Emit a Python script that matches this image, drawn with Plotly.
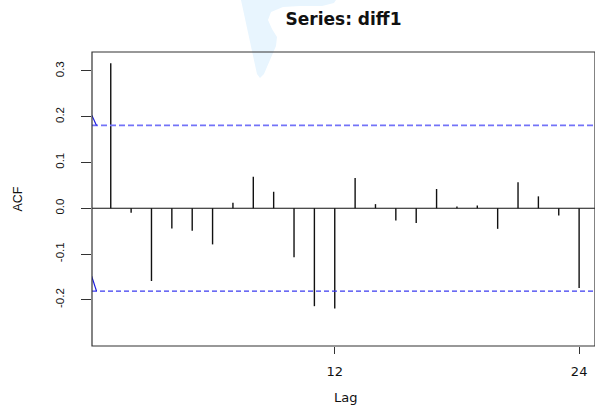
import plotly.graph_objects as go

# Sample autocorrelations of diff1, lags 1..24
lags = list(range(1, 25))
acf_values = [0.317, -0.010, -0.159, -0.044, -0.049, -0.079, 0.012, 0.069,
              0.036, -0.107, -0.214, -0.219, 0.066, 0.009, -0.027, -0.032,
              0.042, 0.004, 0.006, -0.045, 0.057, 0.026, -0.016, -0.174]

# 95% significance bounds
ci_bound = 0.181
# short solid pieces where the bound lines meet the left edge
ci_edge_x = [0.0, 0.3]
ci_upper_edge = [0.210, 0.181]
ci_lower_edge = [-0.140, -0.181]

x_tick_vals = [12, 24]
x_tick_text = ["12", "24"]
y_tick_vals = [-0.2, -0.1, 0.0, 0.1, 0.2, 0.3]
y_tick_text = ["-0.2", "-0.1", "0.0", "0.1", "0.2", "0.3"]

x_range = [0.079, 24.78]
y_range = [-0.301, 0.3414]

W, H = 595, 405
ML, MR, MT, MB = 92, 0, 52, 59
PW, PH = W - ML - MR, H - MT - MB


def px_to_paper(px, py):
    return (px - ML) / PW, (H - MB - py) / PH


# spikes from zero to each autocorrelation
spike_x, spike_y = [], []
for lag, r in zip(lags, acf_values):
    spike_x += [lag, lag, None]
    spike_y += [0, r, None]

fig = go.Figure()

fig.add_trace(go.Scatter(
    x=spike_x, y=spike_y, mode="lines",
    line=dict(color="#111111", width=1.4), hoverinfo="skip", showlegend=False))

fig.add_trace(go.Scatter(
    x=[x_range[0], x_range[1]], y=[ci_bound, ci_bound], mode="lines",
    line=dict(color="#7373f8", width=1.7, dash="6px,3px"),
    hoverinfo="skip", showlegend=False))
fig.add_trace(go.Scatter(
    x=[x_range[0], x_range[1]], y=[-ci_bound, -ci_bound], mode="lines",
    line=dict(color="#3b3bf0", width=1.1, dash="5px,3px"),
    hoverinfo="skip", showlegend=False))
fig.add_trace(go.Scatter(
    x=ci_edge_x, y=ci_upper_edge, mode="lines",
    line=dict(color="#1a1ae0", width=1.2), hoverinfo="skip", showlegend=False))
fig.add_trace(go.Scatter(
    x=ci_edge_x, y=ci_lower_edge, mode="lines",
    line=dict(color="#1a1ae0", width=1.2), hoverinfo="skip", showlegend=False))

# faint background emblem near the top
emblem_px = [(241, 0), (257, 74), (260, 78), (264, 74), (276, 46), (277, 37),
             (272, 29), (268, 20), (271, 12), (283, 7), (300, 6), (322, 6),
             (334, 3), (336, 0)]
pts = [px_to_paper(a, b) for a, b in emblem_px]
path = "M " + " L ".join(f"{a:.4f},{b:.4f}" for a, b in pts) + " Z"

shapes = [
    dict(type="path", path=path, xref="paper", yref="paper",
         fillcolor="#e8f5fe", line=dict(width=0), layer="below"),
    dict(type="line", xref="paper", yref="y", x0=0, x1=1, y0=0, y1=0,
         line=dict(color="#111111", width=1.2)),
    dict(type="rect", xref="paper", yref="paper", x0=0, x1=1, y0=0, y1=1,
         line=dict(color="#333333", width=1.2)),
]

annotations = [
    dict(text="Lag", xref="paper", yref="paper", x=0.5 + 2 / PW,
         y=px_to_paper(0, 397)[1], showarrow=False, yanchor="middle",
         font=dict(family="DejaVu Sans", size=13, color="#111111")),
    dict(text="ACF", xref="paper", yref="paper", x=px_to_paper(17.5, 0)[0],
         y=0.5, showarrow=False, textangle=-90, xanchor="center",
         font=dict(family="Liberation Sans", size=12.5, color="#111111")),
]

fig.update_layout(
    width=W, height=H,
    margin=dict(l=ML, r=MR, t=MT, b=MB),
    paper_bgcolor="white", plot_bgcolor="rgba(0,0,0,0)",
    title=dict(text="<b>Series: diff1</b>", x=0.5, xref="paper",
               y=1 - 19 / H, yref="container", yanchor="middle",
               font=dict(family="DejaVu Sans", size=17, color="#111111")),
    xaxis=dict(range=x_range, tickvals=x_tick_vals, ticktext=x_tick_text,
               ticks="outside", ticklen=7, tickcolor="#333333", tickwidth=1,
               showgrid=False, zeroline=False, showline=False,
               tickfont=dict(family="DejaVu Sans", size=13, color="#111111"),
               ticklabelstandoff=6),
    yaxis=dict(range=y_range, tickvals=y_tick_vals, ticktext=y_tick_text,
               ticks="outside", ticklen=10, tickcolor="#333333", tickwidth=1,
               tickangle=-90, showgrid=False, zeroline=False, showline=False,
               tickfont=dict(family="Liberation Sans", size=11.5, color="#111111"),
               ticklabelstandoff=12),
    shapes=shapes,
    annotations=annotations,
    showlegend=False,
)

fig.write_html("out.html")
